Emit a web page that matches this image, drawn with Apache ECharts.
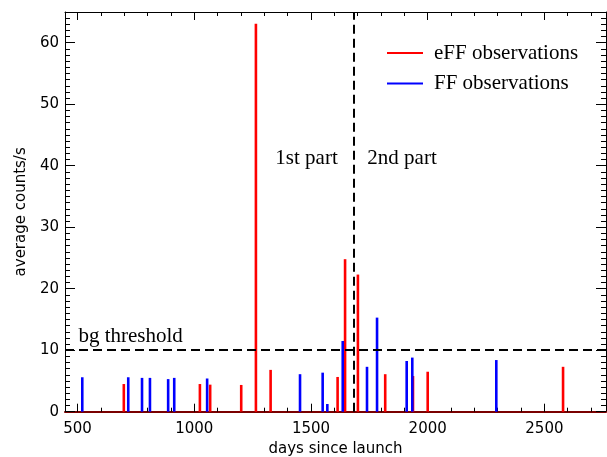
<!DOCTYPE html>
<html><head><meta charset="utf-8">
<script src="https://cdn.jsdelivr.net/npm/echarts@6/dist/echarts.min.js"></script>
<style>html,body{margin:0;padding:0;background:#fff}#c{width:607px;height:457px}</style>
</head><body><div id="c"></div>
<script>
// eFF observations (red)
const effDays   = [698, 1024, 1068, 1201, 1264, 1327, 1614, 1646, 1701, 1818, 1937, 2000, 2580];
const effCounts = [4.5, 4.5, 4.4, 4.35, 63.1, 6.8, 5.65, 24.8, 22.3, 6.1, 5.8, 6.5, 7.3];
// FF observations (blue)
const ffDays   = [520, 717, 776, 810, 888, 914, 1055, 1453, 1550, 1570, 1636, 1740, 1783, 1910, 1934, 2294];
const ffCounts = [5.6, 5.6, 5.5, 5.5, 5.3, 5.5, 5.4, 6.1, 6.35, 1.25, 11.5, 7.3, 15.3, 8.25, 8.8, 8.4];
// tick labels
const xMajorTicks = [500, 1000, 1500, 2000, 2500];
const yMajorTicks = [0, 10, 20, 30, 40, 50, 60];
// reference lines
const bgThreshold = 10;
const partBoundary = 1684;
// annotation texts and their data positions
const noteTexts = ['bg threshold', '1st part', '2nd part'];
const noteDays  = [727, 1481, 1890];
const noteVals  = [12.3, 41.1, 41.1];

const X_MIN = 446, X_MAX = 2764, Y_MIN = 0, Y_MAX = 65;
const xMinorTicks = []; for (let v = 500; v <= 2700; v += 100) xMinorTicks.push(v);
const yMinorTicks = []; for (let v = 0; v <= 65; v += 1) yMinorTicks.push(v);

const sans = 'DejaVu Sans', serif = 'Liberation Serif';

function xAx(pos, ticks, len, line, extra) {
  return Object.assign({
    type: 'value', position: pos, min: X_MIN, max: X_MAX,
    axisLine: line ? {show: true, onZero: false, lineStyle: line} : {show: false, onZero: false},
    axisTick: {show: true, inside: true, length: len, customValues: ticks, lineStyle: {color: '#000', width: 1}},
    axisLabel: {show: false}, splitLine: {show: false}
  }, extra || {});
}
function yAx(pos, ticks, len, line, extra) {
  return Object.assign({
    type: 'value', position: pos, min: Y_MIN, max: Y_MAX,
    axisLine: line ? {show: true, onZero: false, lineStyle: line} : {show: false, onZero: false},
    axisTick: {show: true, inside: true, length: len, customValues: ticks, lineStyle: {color: '#000', width: 1}},
    axisLabel: {show: false}, splitLine: {show: false}
  }, extra || {});
}

const chart = echarts.init(document.getElementById('c'), null, {renderer: 'canvas'});
chart.setOption({
  animation: false,
  backgroundColor: '#fff',
  grid: {left: 65, right: 1, top: 12, bottom: 45.3, containLabel: false, outerBoundsMode: 'none'},
  legend: {
    orient: 'vertical', left: 382, top: 37.5, itemWidth: 36, itemHeight: 2, itemGap: 9.5,
    icon: 'rect', selectedMode: false,
    textStyle: {fontFamily: serif, fontSize: 21, color: '#000', padding: [0, 0, 0, 6]},
    data: ['eFF observations', 'FF observations']
  },
  xAxis: [
    xAx('bottom', xMajorTicks, 8, {color: '#7a0000', width: 2}, {
      axisLabel: {show: true, customValues: xMajorTicks, margin: 10, fontFamily: sans, fontSize: 15, color: '#000',
                  formatter: v => String(v)},
      name: 'days since launch', nameLocation: 'middle', nameGap: 30,
      nameTextStyle: {fontFamily: sans, fontSize: 15, color: '#000'}
    }),
    xAx('bottom', xMinorTicks, 4, null),
    xAx('top', xMajorTicks, 8, {color: '#000', width: 1}),
    xAx('top', xMinorTicks, 4, null)
  ],
  yAxis: [
    yAx('left', yMajorTicks, 10, {color: '#000', width: 1}, {
      axisLabel: {show: true, customValues: yMajorTicks, margin: 6, fontFamily: sans, fontSize: 15, color: '#000',
                  formatter: v => String(v)},
      name: 'average counts/s', nameLocation: 'middle', nameGap: 36,
      nameTextStyle: {fontFamily: sans, fontSize: 15, color: '#000'}
    }),
    yAx('left', yMinorTicks, 5, null),
    yAx('right', yMajorTicks, 10, {color: '#000', width: 1}),
    yAx('right', yMinorTicks, 5, null)
  ],
  series: [
    {
      type: 'bar', name: 'eFF observations', xAxisIndex: 0, yAxisIndex: 0,
      data: effDays.map((d, i) => [d, effCounts[i]]),
      barWidth: 2.6, barGap: '-100%', itemStyle: {color: '#ff0000'},
      markLine: {
        silent: true, symbol: ['none', 'none'], label: {show: false},
        lineStyle: {color: '#000', width: 2, type: [9, 5]},
        data: [{yAxis: bgThreshold}, {xAxis: partBoundary}]
      },
      markPoint: {
        silent: true, symbol: 'circle', symbolSize: 0,
        itemStyle: {color: 'rgba(0,0,0,0)'},
        label: {show: true, position: 'inside', formatter: '{b}', fontFamily: serif, fontSize: 21, color: '#000'},
        data: noteTexts.map((t, i) => ({name: t, coord: [noteDays[i], noteVals[i]]}))
      }
    },
    {
      type: 'bar', name: 'FF observations', xAxisIndex: 0, yAxisIndex: 0,
      data: ffDays.map((d, i) => [d, ffCounts[i]]),
      barWidth: 2.6, barGap: '-100%', itemStyle: {color: '#0000ff'}
    }
  ]
});
</script>
</body></html>
